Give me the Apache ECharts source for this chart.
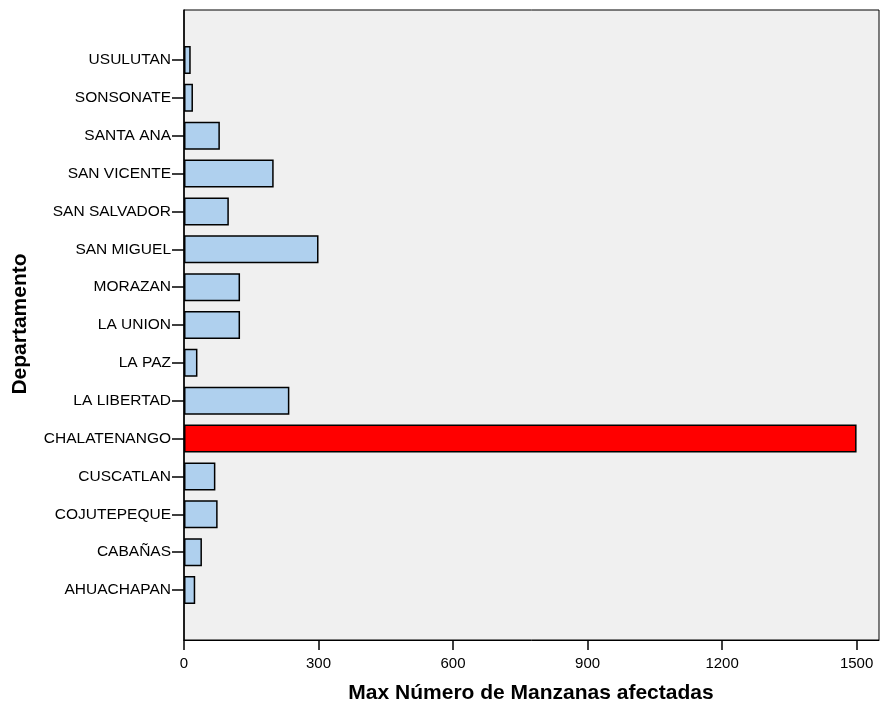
<!DOCTYPE html>
<html>
<head>
<meta charset="utf-8">
<script src="https://cdn.jsdelivr.net/npm/echarts@6/dist/echarts.min.js"></script>
<style>html,body{margin:0;padding:0;background:#fff}#c{width:882px;height:706px}</style>
</head>
<body>
<div id="c"></div>
<script>
var categories = ['AHUACHAPAN','CABAÑAS','COJUTEPEQUE','CUSCATLAN','CHALATENANGO','LA LIBERTAD','LA PAZ','LA UNION','MORAZAN','SAN MIGUEL','SAN SALVADOR','SAN VICENTE','SANTA ANA','SONSONATE','USULUTAN'];
var values = [25, 40, 75, 70, 1500, 235, 30, 125, 125, 300, 100, 200, 80, 20, 15];
var highlight = 'CHALATENANGO';
var xTicks = [0, 300, 600, 900, 1200, 1500];
var xTitle = 'Max Número de Manzanas afectadas';
var yTitle = 'Departamento';

var FONT = '"Liberation Sans", Arial, sans-serif';
var chart = echarts.init(document.getElementById('c'));
chart.setOption({
  animation: false,
  backgroundColor: '#ffffff',
  grid: [
    {left: 184, right: 3, top: 10, bottom: 66, show: true, backgroundColor: '#F0F0F0', borderColor: '#000', borderWidth: 1},
    {left: 184, right: 3, top: 41, bottom: 97}
  ],
  xAxis: [
    {type: 'value', gridIndex: 0, min: 0, max: 1550,
     axisLine: {show: true, lineStyle: {color: '#000', width: 1}},
     axisTick: {show: true, length: 10, lineStyle: {color: '#000', width: 1.5}, customValues: xTicks},
     axisLabel: {show: true, margin: 16, color: '#000', fontSize: 15, fontFamily: FONT, customValues: xTicks,
                 formatter: function (v) { return String(v); }},
     splitLine: {show: false}},
    {type: 'value', gridIndex: 1, min: 0, max: 1550, show: false}
  ],
  yAxis: [
    {type: 'value', gridIndex: 0, min: 0, max: 1,
     axisLine: {show: true, onZero: false, lineStyle: {color: '#000', width: 1.5}},
     axisTick: {show: false}, axisLabel: {show: false}, splitLine: {show: false}},
    {type: 'category', gridIndex: 1, data: categories,
     axisLine: {show: false},
     axisTick: {show: true, alignWithLabel: true, length: 12, lineStyle: {color: '#000', width: 1.5}},
     axisLabel: {show: true, margin: 13, color: '#000', fontSize: 15.5, fontFamily: FONT, interval: 0},
     splitLine: {show: false}}
  ],
  series: [{
    type: 'bar', xAxisIndex: 1, yAxisIndex: 1,
    barWidth: 28,
    data: values.map(function (v, i) {
      return {value: v, itemStyle: {color: categories[i] === highlight ? '#FF0000' : '#AFD0EE'}};
    }),
    itemStyle: {borderColor: '#000', borderWidth: 1.5}
  }],
  graphic: [
    {type: 'text', x: 531, y: 693, style: {text: xTitle, font: 'bold 21px ' + FONT, fill: '#000', align: 'center', verticalAlign: 'middle'}},
    {type: 'text', x: 20, y: 324, rotation: Math.PI / 2, style: {text: yTitle, font: 'bold 21px ' + FONT, fill: '#000', align: 'center', verticalAlign: 'middle'}}
  ]
});
</script>
</body>
</html>
